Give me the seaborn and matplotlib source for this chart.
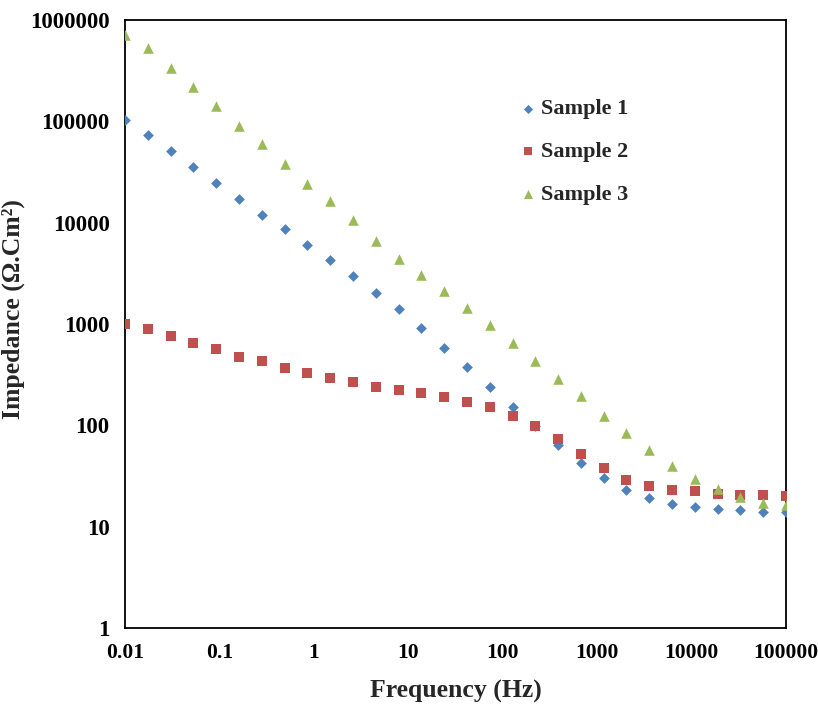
import numpy as np
import pandas as pd
import seaborn as sns
import matplotlib.pyplot as plt
from matplotlib.ticker import NullLocator

# ---- data ----
freq = [0.01, 0.0174, 0.0304, 0.053, 0.0924, 0.161, 0.281, 0.489, 0.853, 1.49,
        2.59, 4.52, 7.88, 13.7, 24.0, 41.8, 72.8, 127, 221, 386,
        673, 1170, 2040, 3560, 6210, 10800, 18900, 32900, 57400, 100000]

sample1 = [103000, 72800, 51300, 35200, 24800, 17000, 12000, 8660, 6020, 4280,
           2980, 2040, 1400, 914, 576, 379, 239, 151, 99, 64,
           42.8, 30.0, 23.0, 19.1, 16.9, 15.6, 15.0, 14.5, 14.0, 13.9]

sample2 = [993, 887, 767, 654, 563, 476, 429, 366, 329, 291,
           270, 241, 223, 207, 192, 171, 151, 124, 98.5, 72.8,
           52.1, 37.9, 29.1, 25.0, 23.2, 22.3, 21.2, 20.4, 20.5, 19.9]

sample3 = [711000, 526000, 334000, 220000, 143000, 90600, 59300, 37700, 23900, 16250,
           10740, 6640, 4350, 3070, 2130, 1449, 977, 645, 431, 287,
           195, 125, 83.4, 57.1, 40.0, 29.7, 23.7, 19.8, 17.2, 16.4]

series_names = ["Sample 1", "Sample 2", "Sample 3"]
x_ticks = [0.01, 0.1, 1, 10, 100, 1000, 10000, 100000]
x_tick_labels = ["0.01", "0.1", "1", "10", "100", "1000", "10000", "100000"]
y_ticks = [1, 10, 100, 1000, 10000, 100000, 1000000]
y_tick_labels = ["1", "10", "100", "1000", "10000", "100000", "1000000"]

df = pd.DataFrame({
    "Frequency": freq * 3,
    "Impedance": sample1 + sample2 + sample3,
    "Sample": [series_names[0]] * len(freq) + [series_names[1]] * len(freq) + [series_names[2]] * len(freq),
})

# ---- styling ----
sns.set_theme(style="white")
plt.rcParams["font.family"] = ["Liberation Serif", "DejaVu Serif"]
plt.rcParams["font.weight"] = "bold"

colors = {"Sample 1": "#4F81BD", "Sample 2": "#C0504D", "Sample 3": "#9BBB59"}
markers = {"Sample 1": "D", "Sample 2": "s", "Sample 3": "^"}
msizes = {"Sample 1": 30, "Sample 2": 52, "Sample 3": 58}

fig = plt.figure(figsize=(8.18, 7.04), dpi=100)
ax = fig.add_axes([125 / 818, 1 - 628 / 704, (786 - 125) / 818, (628 - 20) / 704])

for name in series_names:
    sub = df[df["Sample"] == name]
    sns.scatterplot(data=sub, x="Frequency", y="Impedance", marker=markers[name],
                    s=msizes[name], color=colors[name], linewidth=0, ax=ax,
                    label=name, zorder=3)

ax.set_xscale("log")
ax.set_yscale("log")
ax.set_xlim(0.01, 100000)
ax.set_ylim(1, 1000000)
ax.set_xticks(x_ticks)
ax.set_xticklabels(x_tick_labels)
ax.set_yticks(y_ticks)
ax.set_yticklabels(y_tick_labels)
ax.xaxis.set_minor_locator(NullLocator())
ax.yaxis.set_minor_locator(NullLocator())

ax.tick_params(axis="both", direction="in", length=5, width=0.8, color="#808080",
               pad=11, labelcolor="black")
ax.tick_params(axis="x", labelsize=15.5)
ax.tick_params(axis="y", labelsize=16.5)
for lab in ax.get_xticklabels() + ax.get_yticklabels():
    lab.set_fontweight("bold")

for sp in ax.spines.values():
    sp.set_color("black")
    sp.set_linewidth(1.3)

ax.set_xlabel("Frequency (Hz)", fontsize=18.5, fontweight="bold", labelpad=12)
ax.set_ylabel("Impedance (\u03a9.Cm\u00b2)", fontsize=18.5, fontweight="bold")
ax.yaxis.set_label_coords((25 - 125) / 661, 0.525)

leg = ax.legend(loc="upper left", bbox_to_anchor=(508 / 818, 1 - 90 / 704),
                bbox_transform=fig.transFigure, frameon=False,
                prop={"family": ["Liberation Serif"], "weight": "bold", "size": 16},
                handletextpad=0.1, labelspacing=1.0, markerscale=0.85,
                handlelength=1.0, borderaxespad=0)

fig.savefig("out.png", dpi=100)
